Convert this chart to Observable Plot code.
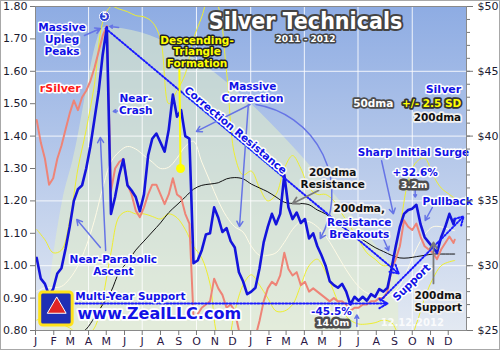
<!DOCTYPE html>
<html><head><meta charset="utf-8">
<script src="https://cdn.jsdelivr.net/npm/d3@7"></script>
<script src="https://cdn.jsdelivr.net/npm/@observablehq/plot@0.6"></script>
<style>
body{margin:0;background:#fff;}
#chart svg{display:block;outline:1px solid #a8a8a8;outline-offset:-1px;}
</style></head><body><div id="chart"></div>
<script>
// ---------- data ----------
const weekStart = "2011-01-03"; // weekly samples
const silverWeekly = [30.6,29.0,28.6,27.7,28.2,29.4,29.8,31.3,33.0,35.0,35.9,36.2,37.5,39.2,41.3,43.4,46.3,48.4,
 34.0,35.3,37.0,38.2,36.2,35.8,35.3,34.2,35.5,38.5,39.8,40.2,39.5,38.8,40.5,43.2,41.5,42.0,40.0,39.8,
 30.2,30.4,31.2,32.4,32.5,34.5,33.7,32.6,32.9,31.9,31.4,29.5,28.8,27.8,
 28.0,28.3,29.8,31.8,33.0,34.0,33.2,34.0,37.0,34.5,33.6,34.1,33.3,33.6,32.1,32.5,31.5,30.8,30.0,28.8,
 28.5,28.3,28.6,28.0,27.0,27.6,27.3,27.6,27.3,27.8,27.6,28.2,28.0,28.3,29.8,31.5,33.0,34.0,34.3,34.4,
 34.7,33.2,32.2,31.8,31.4,31.0,32.2,33.0,34.0,33.2];
const rSilverWeekly = [1.45,1.38,1.33,1.25,1.27,1.33,1.37,1.42,1.47,1.51,1.48,1.52,1.54,1.57,1.61,1.66,1.71,1.74,
 1.23,1.30,1.32,1.33,1.25,1.22,1.17,1.15,1.18,1.22,1.25,1.25,1.22,1.19,1.22,1.27,1.22,1.21,1.16,1.13,
 0.84,0.85,0.87,0.88,0.89,0.96,0.93,0.91,0.87,0.88,0.86,0.80,0.79,0.75,
 0.77,0.78,0.83,0.89,0.93,0.95,0.94,0.97,1.04,0.99,0.97,0.98,0.94,0.95,0.92,0.93,0.92,0.91,0.90,0.89,
 0.90,0.89,0.89,0.88,0.86,0.87,0.87,0.88,0.88,0.89,0.89,0.90,0.90,0.92,0.99,1.02,1.06,1.14,1.12,1.11,
 1.13,1.09,1.06,1.05,1.04,1.02,1.05,1.07,1.09,1.07];
const lastDate = "2012-12-12";
const lastSilver = 33.6, lastRSilver = 1.08;

const avgStart = "2011-01-03"; // samples every 14 days
const ma50 = [28.0,28.3,28.3,28.4,29.0,30.0,31.5,33.5,36.0,38.0,38.8,39.2,39.0,38.5,38.0,37.5,37.6,38.3,39.2,39.6,
 38.0,36.5,35.0,33.8,33.0,32.6,31.5,30.8,30.8,31.0,31.8,32.8,33.4,33.4,33.0,32.3,31.3,30.2,29.2,28.4,
 27.9,27.7,27.6,27.8,28.5,29.8,31.3,32.4,33.0,33.0,32.8];
const ma200 = [21.5,22.0,22.6,23.3,24.0,24.6,25.1,26.0,27.0,28.0,29.5,30.3,31.2,31.9,32.6,33.3,34.1,34.7,35.3,35.9,
 36.2,36.3,36.4,36.7,36.8,36.7,36.3,36.0,35.7,35.3,34.9,34.8,34.8,34.7,34.3,34.0,33.5,33.0,32.6,32.2,
 31.8,31.4,31.1,30.8,30.6,30.6,30.7,30.8,30.9,30.9,30.9];
const upperBand = [32.8,32.0,31.0,31.2,33.5,37.5,40.5,44.0,48.8,50.0,49.8,49.6,49.3,49.2,48.8,47.5,42.5,43.5,44.8,47.5,
 49.2,51.0,50.0,45.0,38.5,37.0,37.3,36.0,35.0,35.5,37.5,38.5,37.5,36.0,35.5,35.5,35.0,34.0,33.0,32.0,
 31.0,30.5,30.0,30.2,33.0,36.5,38.0,38.3,37.0,36.0,35.5];
const lowerBand = [25.8,26.0,25.8,25.5,25.2,24.7,24.6,25.2,27.5,31.0,33.8,34.2,34.0,34.0,33.8,33.6,34.0,33.7,32.8,31.5,
 30.6,28.6,24.5,24.0,26.5,28.5,29.3,28.5,27.5,26.5,26.5,27.0,28.5,30.0,30.5,29.5,28.0,26.5,25.8,25.5,
 25.5,25.6,25.8,25.6,24.5,24.0,25.5,27.5,29.0,30.0,30.3];
const lastMa50 = 32.7, lastMa200 = 30.9, lastUpper = 35.2, lastLower = 30.4;

const monthLetters = ["J","F","M","A","M","J","J","A","S","O","N","D"];
const rTicks = [0.80,0.90,1.00,1.10,1.20,1.30,1.40,1.50,1.60,1.70,1.80];
const dollarTicks = [25,30,35,40,45,50];
const gridDollars = [30,35,40,45];

// ---------- helpers ----------
const D = s => new Date(s);
const rToDollar = r => 30 + (r - 1) * 25;   // left axis (rSilver) shares the frame with the $ axis
const weekly = (vals, last) => vals.map((v, i) => ({date: d3.utcDay.offset(D(weekStart), 7 * i), v}))
  .concat([{date: D(lastDate), v: last}]);
const biweekly = (vals, last) => vals.map((v, i) => ({date: d3.utcDay.offset(D(avgStart), 14 * i), v}))
  .concat([{date: D(lastDate), v: last}]);

const silver = weekly(silverWeekly, lastSilver);
const rSilver = weekly(rSilverWeekly, lastRSilver);
const s50 = biweekly(ma50, lastMa50), s200 = biweekly(ma200, lastMa200);
const sUp = biweekly(upperBand, lastUpper), sLo = biweekly(lowerBand, lastLower);

const monthDates = d3.utcMonth.range(D("2011-01-01"), D("2013-01-01"));
const quarterDates = d3.utcMonth.every(3).range(D("2011-02-01"), D("2012-12-31"));

// ---------- annotation layout (data coordinates) ----------
const shade = [["2011-01-15",25],["2011-02-16",35],["2011-03-05",38],["2011-04-28",48.4],["2012-09-08",29.4]]
  .map(([d, v]) => ({date: D(d), v}));
const A = (a, b, c, d) => ({x1: D(a), y1: b, x2: D(c), y2: d});
const noteArrows = [
  A("2011-03-25",47.76,"2011-04-21",48.3),
  A("2011-05-22",48.38,"2011-05-07",48.46),
  A("2011-05-28",41.98,"2011-05-13",41.9),
  A("2011-12-31",42.44,"2011-10-01",40.36),
  A("2011-12-28",42.44,"2011-12-13",33.02),
  A("2011-04-21",31.4,"2011-03-12",33.56),
  A("2011-04-30",31.17,"2011-04-21",39.9),
  A("2012-08-13",32.1,"2012-08-22",31.17),
  A("2012-08-10",38.1,"2012-08-30",34.0),
  A("2012-10-06",35.9,"2012-10-06",35.3),
  A("2012-11-04",34.49,"2012-10-23",33.49),
  A("2012-06-29",25.3,"2012-06-29",26.2)
];
const bentArrow = [A("2012-01-10",42.44,"2012-04-28",32.1)];
const grayArrows = [A("2012-04-25",35.8,"2012-03-12",34.8), A("2012-11-06",28.63,"2012-11-06",31.79)];
const dottedArrows = [A("2011-04-30",48.3,"2012-09-08",29.4), A("2011-03-10",27.08,"2012-08-20",27.08), A("2012-08-08",27.31,"2012-12-27",33.8)];
const N = (d, v, t) => ({x: D(d), y: v, t});
const blueNotes = [
  N("2011-02-15",47.49,"Massive\nUpleg\nPeaks"), N("2011-06-20",42.44,"Near-\nCrash"),
  N("2012-01-04",43.36,"Massive\nCorrection"), N("2011-05-13",30.02,"Near-Parabolic\nAscent"),
  N("2011-06-11",27.62,"Multi-Year Support"), N("2012-07-03",32.87,"Resistance\nBreakouts"),
  N("2012-10-03",38.73,"Sharp Initial Surge"), N("2012-10-06",37.2,"+32.6%"),
  N("2012-11-30",35.0,"Pullback"), N("2012-05-17",26.47,"-45.5%")
];
const blackNotes = [N("2012-05-19",36.73,"200dma\nResistance"), N("2012-07-03",34.41,"200dma,"), N("2012-11-14",27.24,"200dma\nSupport")];
const boxNotes = [N("2012-10-04",36.2,"3.2m"), N("2012-05-19",25.62,"14.0m")];
const halo = {strokeLinejoin: "round", paintOrder: "stroke", fontWeight: "bold", fontSize: 10.5, fontFamily: "DejaVu Sans"};

const chart = Plot.plot({
  width: 500, height: 350,
  marginLeft: 35, marginRight: 34, marginTop: 6, marginBottom: 20,
  style: {fontFamily: "DejaVu Sans", background: "white"},
  x: {type: "utc", domain: [D("2011-01-01"), D("2013-01-01")]},
  y: {domain: [25, 50]},
  marks: [
    Plot.frame({fill: "url(#bgGrad)"}),
    Plot.areaY(shade, {x: "date", y1: 25, y2: "v", fill: "#e4efc8", fillOpacity: 0.55, curve: "monotone-x"}),
    Plot.ruleX(quarterDates, {stroke: "white", strokeOpacity: 0.85}),
    Plot.ruleY(gridDollars, {stroke: "white", strokeOpacity: 0.85}),
    Plot.line(sUp, {x: "date", y: "v", stroke: "#eeee30", strokeWidth: 1, clip: true, curve: "catmull-rom"}),
    Plot.line(sLo, {x: "date", y: "v", stroke: "#eeee30", strokeWidth: 1, clip: true, curve: "catmull-rom"}),
    Plot.line(s50, {x: "date", y: "v", stroke: "#fffbe6", strokeWidth: 1, clip: true, curve: "catmull-rom"}),
    Plot.line(s200, {x: "date", y: "v", stroke: "#111", strokeWidth: 1, clip: true, curve: "catmull-rom"}),
    Plot.line(rSilver, {x: "date", y: d => rToDollar(d.v), stroke: "#ee8477", strokeWidth: 2, clip: true}),
    Plot.line(silver, {x: "date", y: "v", stroke: "#1414dc", strokeWidth: 2.6, clip: true}),
    // dotted trend lines
    Plot.arrow(dottedArrows, {x1: "x1", y1: "y1", x2: "x2", y2: "y2", stroke: "#1a1aff", strokeWidth: 2, strokeDasharray: "1.6,1.9", headLength: 7}),
    // annotation arrows
    Plot.arrow(noteArrows, {x1: "x1", y1: "y1", x2: "x2", y2: "y2", stroke: "#6674e6", strokeWidth: 1.5, headLength: 6}),
    Plot.arrow(bentArrow, {x1: "x1", y1: "y1", x2: "x2", y2: "y2", stroke: "#6674e6", strokeWidth: 1.5, headLength: 6, bend: 55}),
    Plot.arrow(grayArrows, {x1: "x1", y1: "y1", x2: "x2", y2: "y2", stroke: "#7a7a7a", strokeWidth: 1.8, headLength: 6}),
    // descending-triangle pin
    Plot.link([A("2011-09-02",45.22,"2011-09-04",37.5)], {x1: "x1", y1: "y1", x2: "x2", y2: "y2", stroke: "#ffff00", strokeWidth: 2}),
    Plot.dot([N("2011-09-04",37.5,"")], {x: "x", y: "y", r: 4.5, fill: "#ffff00"}),
    // peak marker
    Plot.dot([N("2011-04-28",49.23,"5")], {x: "x", y: "y", r: 5, fill: "#2b3bd6", stroke: "white", strokeWidth: 1}),
    Plot.text([N("2011-04-28",49.23,"5")], {x: "x", y: "y", text: "t", fill: "white", fontSize: 8, fontWeight: "bold"}),
    // logo
    Plot.rect([{x1: D("2011-01-09"), x2: D("2011-03-05"), y1: 25.39, y2: 27.93}], {x1: "x1", x2: "x2", y1: "y1", y2: "y2", fill: "#1f2fb4", stroke: "#ffe21a", strokeWidth: 3, rx: 3}),
    Plot.dot([N("2011-02-06",26.75,"")], {x: "x", y: "y", r: 7, fill: "#e02424", symbol: "triangle", stroke: "white", strokeWidth: 1}),
    // texts
    Plot.text(blueNotes, {x: "x", y: "y", text: "t", fill: "#1212e6", stroke: "white", strokeWidth: 3, lineHeight: 1.15, ...halo}),
    Plot.text([N("2011-02-12",43.67,"rSilver")], {x: "x", y: "y", text: "t", fill: "#ff1a1a", stroke: "white", strokeWidth: 3, ...halo, fontSize: 11}),
    Plot.text([N("2011-12-06",40.45,"Correction Resistance")], {x: "x", y: "y", text: "t", rotate: 40, fill: "#1212e6", stroke: "white", strokeWidth: 3, ...halo}),
    Plot.text([N("2012-09-30",28.7,"Support")], {x: "x", y: "y", text: "t", rotate: -44, fill: "#1212e6", stroke: "white", strokeWidth: 3, ...halo}),
    Plot.text([N("2011-10-02",46.53,"Descending-\nTriangle\nFormation")], {x: "x", y: "y", text: "t", fill: "#ffff00", stroke: "#222", strokeWidth: 3, lineHeight: 1.1, ...halo}),
    Plot.text(blackNotes, {x: "x", y: "y", text: "t", fill: "#111", stroke: "#f2f2f2", strokeWidth: 3.5, lineHeight: 1.15, ...halo}),
    Plot.text(boxNotes, {x: "x", y: "y", text: "t", fill: "white", stroke: "#4d4d4d", strokeWidth: 5, ...halo, fontSize: 9.5}),
    Plot.text([N("2011-07-30",26.31,"www.ZealLLC.com")], {x: "x", y: "y", text: "t", fill: "#1212e6", stroke: "white", strokeWidth: 3.5, ...halo, fontSize: 16}),
    Plot.text([N("2012-10-01",25.62,"12.12.2012")], {x: "x", y: "y", text: "t", fill: "white", fillOpacity: 0.85, ...halo, fontSize: 10}),
    // legend
    Plot.text([N("2012-12-23",43.6,"Silver")], {x: "x", y: "y", text: "t", textAnchor: "end", fill: "#1212e6", stroke: "white", strokeWidth: 3, ...halo, fontSize: 11}),
    Plot.text([N("2012-08-30",42.5,"50dma")], {x: "x", y: "y", text: "t", textAnchor: "end", fill: "white", stroke: "#4d4d4d", strokeWidth: 3.5, ...halo}),
    Plot.text([N("2012-12-23",42.5,"+/- 2.5 SD")], {x: "x", y: "y", text: "t", textAnchor: "end", fill: "#ffff00", stroke: "#333", strokeWidth: 3.5, ...halo}),
    Plot.text([N("2012-12-23",41.4,"200dma")], {x: "x", y: "y", text: "t", textAnchor: "end", fill: "#111", stroke: "#f2f2f2", strokeWidth: 3.5, ...halo}),
    // title
    Plot.text([N("2012-04-03",48.85,"Silver Technicals")], {x: "x", y: "y", text: "t", fill: "white", stroke: "#444", strokeWidth: 4, ...halo, fontSize: 23, fontFamily: "'DejaVu Sans Condensed','DejaVu Sans'"}),
    Plot.text([N("2012-04-03",47.45,"2011 - 2012")], {x: "x", y: "y", text: "t", fill: "white", stroke: "#444", strokeWidth: 3, ...halo, fontSize: 9}),
    // frame and axes
    Plot.frame({stroke: "#8a8a8a"}),
    Plot.axisX({ticks: monthDates, tickFormat: d => monthLetters[d.getUTCMonth()], tickSize: 5, tickPadding: 2, fontSize: 11, stroke: "#777", fill: "#2b1645"}),
    Plot.axisY({anchor: "left", ticks: rTicks.map(rToDollar), tickFormat: v => ((v - 30) / 25 + 1).toFixed(2), tickSize: 5, tickPadding: 3, fontSize: 11, stroke: "#777", fill: "#1a1a2e"}),
    Plot.axisY({anchor: "right", ticks: d3.range(25, 51), tickFormat: () => "", tickSize: 3, stroke: "#777"}),
    Plot.axisY({anchor: "right", ticks: dollarTicks, tickFormat: v => "$" + v, tickSize: 6, tickPadding: 5, fontSize: 11, stroke: "#777", fill: "#1a1a2e"})
  ]
});

const svg = d3.select(chart);
const grad = svg.insert("defs", ":first-child").append("linearGradient")
  .attr("id", "bgGrad").attr("x1", 0).attr("y1", 0).attr("x2", 0).attr("y2", 1);
grad.append("stop").attr("offset", "0%").attr("stop-color", "#8eace3");
grad.append("stop").attr("offset", "100%").attr("stop-color", "#e3e9f2");
document.getElementById("chart").append(chart);
</script></body></html>
